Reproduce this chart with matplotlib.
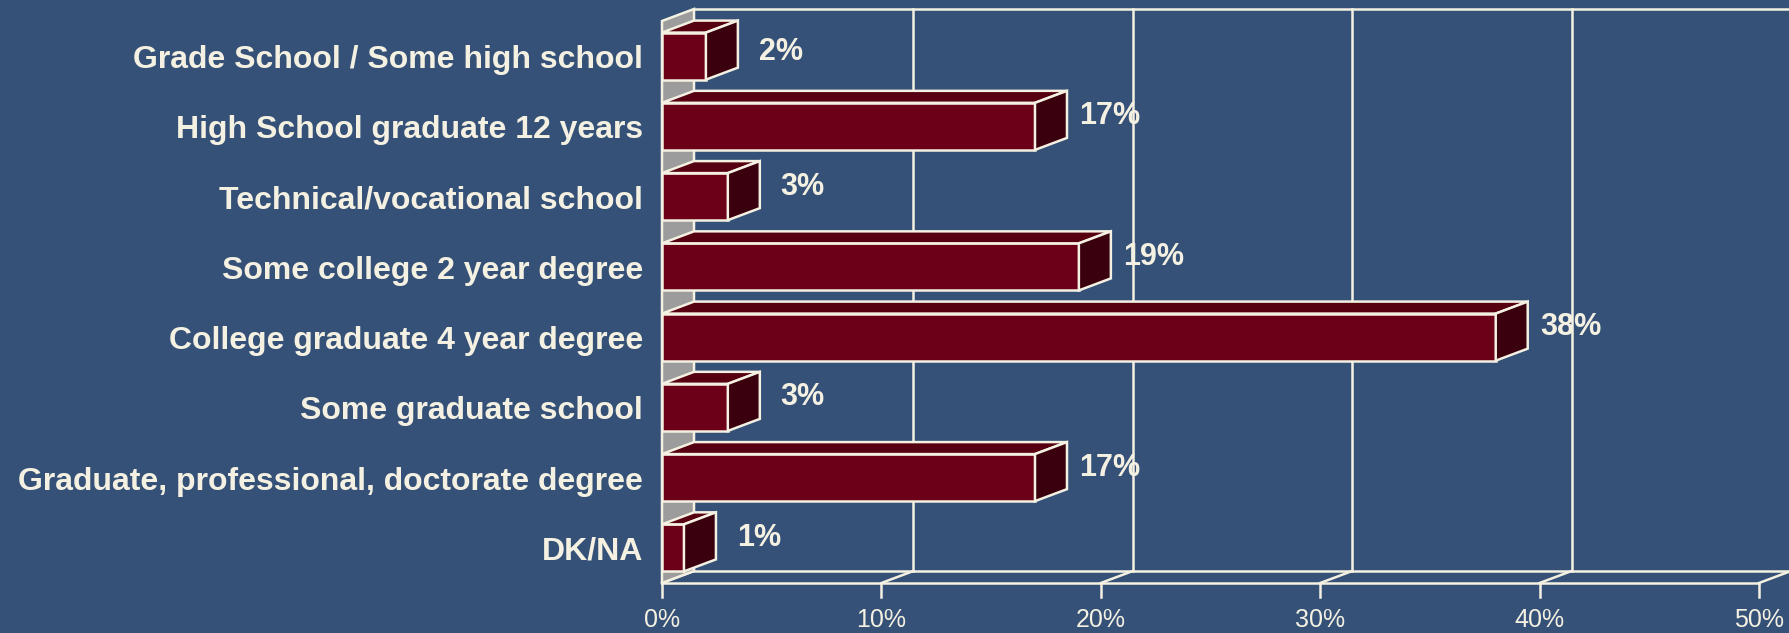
import matplotlib.pyplot as plt
from matplotlib.patches import Polygon

plt.rcParams['font.family'] = ['Liberation Sans', 'DejaVu Sans']

# nivel educativo de los encuestados
categorias = ['Grade School / Some high school', 'High School graduate 12 years',
              'Technical/vocational school', 'Some college 2 year degree',
              'College graduate 4 year degree', 'Some graduate school',
              'Graduate, professional, doctorate degree', 'DK/NA']
porcentajes = [2, 17, 3, 19, 38, 3, 17, 1]
marcas = [0, 10, 20, 30, 40, 50]

fondo = '#365178'
linea = '#f4f1e2'
frente = '#6c0018'
tapa = '#560012'
lado = '#3a000e'
pared = '#9c9c9c'

W, H = 1790, 633
fig = plt.figure(figsize=(W / 100, H / 100), dpi=100)
fig.patch.set_facecolor(fondo)
ax = fig.add_axes([0, 0, 1, 1])
ax.set_facecolor(fondo)
ax.axis('off')

# escala: pixeles por punto porcentual y por fila
px_pct = 21.94
px_fila = 70.25
x0, y0 = 662, 21
ax.set_xlim(-x0 / px_pct, (W - x0) / px_pct)
ax.set_ylim((H - y0) / px_fila, -y0 / px_fila)

dx = 32 / px_pct   # profundidad en x
dy = 12 / px_fila  # profundidad en y (hacia arriba)
n = len(categorias)
xmax = marcas[-1]
lw = 1.8

# plano del fondo y lineas de division
ax.plot([dx, xmax + dx, xmax + dx, dx], [n - dy, n - dy, -dy, -dy], color=linea, lw=lw, zorder=1)
for t in marcas[1:-1]:
    ax.plot([t + dx, t + dx], [-dy, n - dy], color=linea, lw=lw, zorder=1)

# piso
for t in marcas:
    ax.plot([t, t + dx], [n, n - dy], color=linea, lw=lw, zorder=1)
    ax.plot([t, t], [n, n + 0.2], color=linea, lw=lw, zorder=1)
    ax.text(t, 8.53, f'{t}%', ha='center', va='center', fontsize=18, color=linea)
ax.plot([0, xmax], [n, n], color=linea, lw=lw, zorder=1)

# pared lateral
ax.add_patch(Polygon([(0, 0), (dx, -dy), (dx, n - dy), (0, n)], closed=True,
                     facecolor=pared, edgecolor=linea, lw=lw, zorder=2))

# barras
alto = 0.67
for i, (cat, v) in enumerate(zip(categorias, porcentajes)):
    yc = i + 0.5
    arriba = yc - alto / 2
    abajo = yc + alto / 2
    ax.barh(yc, v, height=alto, color=frente, edgecolor=linea, lw=lw, zorder=4)
    ax.add_patch(Polygon([(0, arriba), (v, arriba), (v + dx, arriba - dy), (dx, arriba - dy)],
                         closed=True, facecolor=tapa, edgecolor=linea, lw=lw, zorder=4))
    ax.add_patch(Polygon([(v, arriba), (v, abajo), (v + dx, abajo - dy), (v + dx, arriba - dy)],
                         closed=True, facecolor=lado, edgecolor=linea, lw=lw, zorder=4))
    # la primera etiqueta queda un poco mas abajo
    sube = -8 if i == 0 else -2
    ax.annotate(f'{v}%', xy=(v + dx, yc - dy), xytext=(43, sube), textcoords='offset pixels',
                ha='center', va='center', fontsize=22, fontweight='bold', color=linea, zorder=5)
    ax.annotate(cat, xy=(0, yc), xytext=(-19, -4), textcoords='offset pixels',
                ha='right', va='center', fontsize=23, fontweight='bold', color=linea)

fig.savefig('out.png', dpi=100, facecolor=fondo)
